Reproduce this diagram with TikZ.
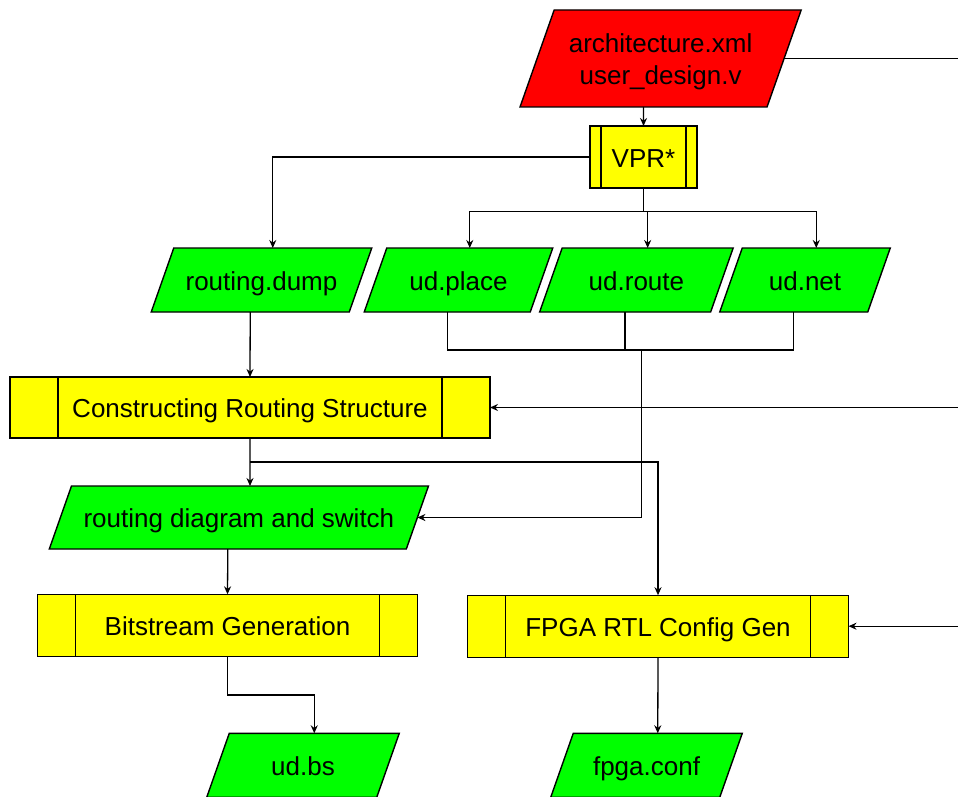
\documentclass[tikz,border=0pt]{standalone}
\usepackage{fontspec}
\setmainfont{Liberation Sans}
\usetikzlibrary{arrows.meta}

\definecolor{filered}{RGB}{255,0,0}
\definecolor{filegreen}{RGB}{0,255,0}
\definecolor{procyellow}{RGB}{255,255,0}

\tikzset{
  shapeline/.style={draw=black, line width=1.4pt, line join=miter},
  datafile/.style={shapeline, fill=#1},
  labelfont/.style={font=\fontsize{26}{32}\selectfont, text height=20pt, text depth=0pt},
  caption/.style={labelfont, inner sep=0pt, outer sep=0pt, align=center},
  process/.style={shapeline, labelfont, fill=procyellow, inner sep=0pt, outer sep=0pt},
  link/.style={line width=1.3pt},
  flow/.style={link, -{Stealth[length=8pt,width=7pt]}},
}

% data file: parallelogram with a centred caption
% #1 extra caption options, #2 name, #3 fill, #4 cx, #5 cy,
% #6 edge length, #7 height, #8 text
\newcommand\datafile[8][]{%
  \filldraw[datafile=#3] ({#4-#6/2+0.176*#7},{#5-#7/2}) -- ++(#6,0)
    -- ++({-0.352*#7},#7) -- ++(-#6,0) -- cycle;
  \node[caption,#1] (#2) at (#4,#5) {#8};
  \coordinate (#2-top) at ({#4+0.176*#7},{#5-#7/2});
  \coordinate (#2-bot) at ({#4-0.176*#7},{#5+#7/2});
  \coordinate (#2-right) at ({#4+#6/2},#5);
}

% inner side bars of a predefined-process box
\newcommand\sidebars[2]{%
  \draw[shapeline] ([xshift=#2]#1.north west) -- ([xshift=#2]#1.south west)
    ([xshift=-#2]#1.north east) -- ([xshift=-#2]#1.south east);
}

\begin{document}
\begin{tikzpicture}[x=1pt,y=-1pt]
  \useasboundingbox (0,0) rectangle (958,797);
  \clip (0,0) rectangle (958,797);

  % inputs and intermediate files
  \datafile[text height=, text depth=, yshift=-3.5pt]{arch}{filered}{660.6}{58.5}{247}{97}{architecture.xml\\user\_design.v}
  \datafile{rdump}{filegreen}{261.5}{280}{198}{64}{routing.dump}
  \datafile{uplace}{filegreen}{458.5}{280}{166}{64}{ud.place}
  \datafile{uroute}{filegreen}{636.4}{280}{171}{64}{ud.route}
  \datafile{unet}{filegreen}{805}{280}{148}{64}{ud.net}
  \datafile{rdiag}{filegreen}{238.9}{517.5}{357}{63}{routing diagram and switch}
  \datafile{udbs}{filegreen}{303}{765.3}{170}{64}{ud.bs}
  \datafile{fconf}{filegreen}{646.5}{765.3}{169}{64}{fpga.conf}

  % processing steps
  \node[process, minimum width=107, minimum height=62] (vpr) at (643.5,157) {VPR*};
  \sidebars{vpr}{11}
  \node[process, minimum width=480, minimum height=61] (crs) at (250,407.5) {Constructing Routing Structure};
  \sidebars{crs}{48}
  \node[process, minimum width=380, minimum height=62] (bg) at (227.5,625.3) {Bitstream Generation};
  \sidebars{bg}{38}
  \node[process, minimum width=381, minimum height=62] (frc) at (658,626.2) {FPGA RTL Config Gen};
  \sidebars{frc}{38}

  % junction points and feeds from the right
  \coordinate (fan) at (643.5,211.5);
  \coordinate (join) at (641.7,350);
  \coordinate (tap) at (250,462);
  \coordinate (bend) at (227.5,695);
  \coordinate (feedA) at (958,58.5);
  \coordinate (feedB) at (958,407.5);
  \coordinate (feedC) at (958,626.2);

  % connectors
  \draw[flow] (arch-bot) -- (vpr.north);
  \draw[link] (arch-right) -- (feedA);
  \draw[flow] (vpr.west) -| (rdump-top);
  \draw[link] (vpr.south) -- (fan);
  \draw[flow] (fan) -| (uplace-top);
  \draw[flow] (fan) -| (uroute-top);
  \draw[flow] (fan) -| (unet-top);

  \draw[link] (uplace-bot) |- (join);
  \draw[link] (unet-bot) |- (join);
  \draw[link] (uroute-bot) -- (uroute-bot |- join);
  \draw[flow] (join) |- (rdiag-right);

  \draw[flow] (rdump-bot) -- (crs.north);
  \draw[flow] (feedB) -- (crs.east);
  \draw[flow] (crs.south) -- (rdiag-top);
  \draw[flow] (tap) -| (frc.north);

  \draw[flow] (rdiag-bot) -- (bg.north);
  \draw[flow] (bg.south) -- (bend) -| (udbs-top);
  \draw[flow] (frc.south) -- (fconf-top);
  \draw[flow] (feedC) -- (frc.east);
\end{tikzpicture}
\end{document}
